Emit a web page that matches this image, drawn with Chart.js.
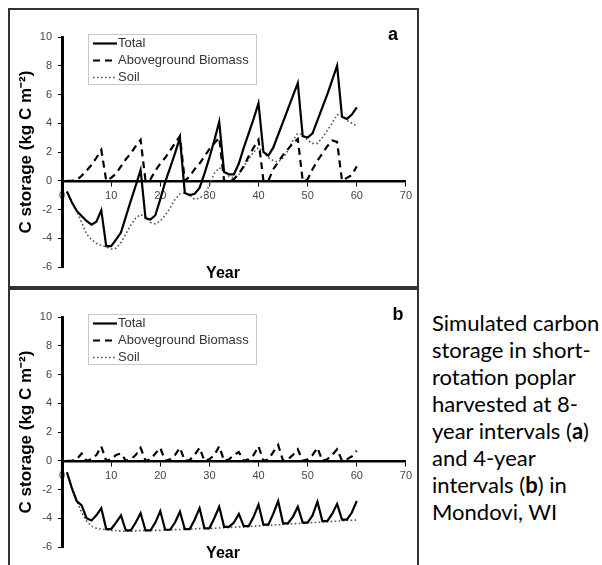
<!DOCTYPE html>
<html>
<head>
<meta charset="utf-8">
<script src="https://cdn.jsdelivr.net/npm/chart.js@4.4.0/dist/chart.umd.min.js"></script>
<style>
body { margin:0; background:#fff; width:602px; height:565px; overflow:hidden; position:relative; }
.panel { position:absolute; left:8px; width:411px; border:2px solid #333; box-sizing:border-box; background:#fff; }
#pa { top:8px; height:280px; }
#pb { top:288px; height:290px; }
.panel canvas { display:block; }
#caption { position:absolute; left:432px; top:309px; font-family:Lato, "Open Sans", sans-serif; font-size:22px; line-height:27px; color:#000; white-space:nowrap; }
</style>
</head>
<body>
<div class="panel" id="pa"><canvas id="chartA" width="407" height="276"></canvas></div>
<div class="panel" id="pb"><canvas id="chartB" width="407" height="276"></canvas></div>
<div id="caption">Simulated carbon<br>storage in short-<br>rotation poplar<br>harvested at 8-<br>year intervals (<b>a</b>)<br>and 4-year<br>intervals (<b>b</b>) in<br>Mondovi, WI</div>
<script>
// years since planting
var years = [1,2,3,4,5,6,7,8,9,10,11,12,13,14,15,16,17,18,19,20,
             21,22,23,24,25,26,27,28,29,30,31,32,33,34,35,36,37,38,39,40,
             41,42,43,44,45,46,47,48,49,50,51,52,53,54,55,56,57,58,59,60];

// (a) 8-year harvest
var totalA = [-0.75,-1.5,-2.1,-2.45,-2.8,-3.05,-2.85,-2.05,-4.55,-4.55,
              -4.1,-3.6,-2.5,-1.4,-0.35,0.75,-2.6,-2.7,-2.4,-1.3,
              -0.1,0.9,1.9,3.0,-0.85,-1.0,-0.9,-0.5,0.5,1.6,
              2.8,4.1,0.6,0.45,0.45,1.2,2.3,3.3,4.3,5.4,
              2.0,1.75,2.3,3.2,4.1,5.0,5.9,6.8,3.1,3.0,
              3.3,4.2,5.1,6.0,7.0,8.0,4.45,4.3,4.6,5.1];
var biomassA = [0,0,0.05,0.35,0.7,1.1,1.6,2.15,0,0.2,
                0.5,1.0,1.5,1.9,2.4,2.85,0,0.1,0.7,1.2,
                1.6,2.1,2.6,3.1,0,0.3,0.8,1.2,1.7,2.2,
                2.6,3.0,0,0,0.1,0.5,1.0,1.7,2.3,2.85,
                0,0,0.8,1.3,1.8,2.2,2.6,2.9,0,0.1,
                0.8,1.4,1.9,2.4,2.8,2.7,0,0.2,0.4,1.0];
var soilA = [-0.75,-1.5,-2.1,-2.9,-3.7,-4.1,-4.35,-4.5,-4.6,-4.75,
             -4.7,-4.3,-3.7,-3.1,-2.6,-2.35,-2.5,-2.9,-3.0,-2.8,
             -2.4,-1.9,-1.3,-0.9,-0.85,-1.0,-1.3,-1.2,-1.0,-0.3,
             0.5,0.9,0.7,0.3,0.2,0.4,1.0,1.5,2.0,2.3,
             2.0,1.6,1.4,1.3,1.6,2.1,2.8,3.3,3.2,2.8,
             2.6,2.6,3.0,3.5,4.0,4.6,4.5,4.2,4.0,3.8];

// (b) 4-year harvest
var totalB = [-0.8,-1.9,-2.8,-3.1,-4.0,-4.15,-3.8,-3.3,-4.75,-4.75,
              -4.3,-3.8,-4.85,-4.85,-4.3,-3.65,-4.85,-4.85,-4.3,-3.5,
              -4.8,-4.8,-4.3,-3.55,-4.75,-4.75,-4.1,-3.3,-4.7,-4.7,
              -4.0,-3.2,-4.6,-4.6,-4.3,-3.7,-4.55,-4.55,-3.9,-3.05,
              -4.45,-4.45,-3.7,-2.8,-4.35,-4.35,-3.9,-3.2,-4.3,-4.3,
              -3.8,-2.85,-4.2,-4.2,-3.7,-3.0,-4.1,-4.1,-3.6,-2.8];
var biomassB = [0,0,0.1,0.5,0,0.1,0.4,1.0,0,0.1,
                0.4,0.5,0,0.1,0.4,0.9,0,0.1,0.5,0.9,
                0,0.1,0.4,0.9,0,0.05,0.4,0.9,0,0.1,
                0.4,1.0,0,0.1,0.4,0.6,0,0.1,0.4,1.0,
                0,0.1,0.6,1.1,0,0.1,0.4,0.8,0,0.1,
                0.4,0.9,0,0.1,0.4,0.8,0,0.1,0.3,0.7];
var soilB = [-0.8,-1.8,-2.8,-3.6,-4.2,-4.55,-4.7,-4.75,-4.8,-4.85,
             -4.85,-4.9,-4.9,-4.9,-4.88,-4.85,-4.86,-4.85,-4.84,-4.84,
             -4.8,-4.8,-4.79,-4.78,-4.76,-4.75,-4.74,-4.72,-4.7,-4.71,
             -4.7,-4.68,-4.66,-4.65,-4.63,-4.6,-4.6,-4.58,-4.55,-4.53,
             -4.5,-4.5,-4.47,-4.45,-4.43,-4.4,-4.38,-4.37,-4.35,-4.32,
             -4.3,-4.29,-4.26,-4.24,-4.22,-4.2,-4.18,-4.16,-4.14,-4.12];

var seriesNames = ['Total', 'Aboveground Biomass', 'Soil'];

Chart.defaults.font.family = '"Liberation Sans", Arial, sans-serif';

function pts(vals) {
    return years.map(function (yr, i) { return {x: yr, y: vals[i]}; });
}

// legend box, "Year" and the panel letter sit inside the plot in the original
var panelDecor = {
    id: 'panelDecor',
    afterDraw: function (chart, args, opts) {
        var ctx = chart.ctx, a = chart.chartArea;
        ctx.save();
        var bx = a.left + 26, by = a.top - 3, bw = 168, bh = 50;
        ctx.fillStyle = '#fff';
        ctx.fillRect(bx, by, bw, bh);
        ctx.strokeStyle = '#c8c8c8';
        ctx.lineWidth = 1;
        ctx.strokeRect(bx + 0.5, by + 0.5, bw, bh);
        ctx.font = '13px "Liberation Sans", Arial, sans-serif';
        ctx.textBaseline = 'middle';
        chart.data.datasets.forEach(function (ds, i) {
            var y = by + 9.5 + i * 17;
            ctx.beginPath();
            ctx.setLineDash(ds.borderDash || []);
            ctx.strokeStyle = ds.borderColor;
            ctx.lineWidth = ds.borderWidth;
            ctx.moveTo(bx + 5, y);
            ctx.lineTo(bx + 29, y);
            ctx.stroke();
            ctx.setLineDash([]);
            ctx.fillStyle = '#333';
            ctx.textAlign = 'left';
            ctx.fillText(ds.label, bx + 30, y);
        });
        ctx.fillStyle = '#000';
        ctx.font = 'bold 16px "Liberation Sans", Arial, sans-serif';
        ctx.textAlign = 'center';
        ctx.fillText('Year', a.left + 161, a.bottom + 7);
        ctx.font = 'bold 18px "Liberation Sans", Arial, sans-serif';
        ctx.fillText(opts.letter, a.right + opts.dx, a.top - 2);
        ctx.restore();
    }
};

function makeChart(id, total, biomass, soil, letter, dx) {
    return new Chart(document.getElementById(id), {
        type: 'line',
        data: {
            datasets: [
                {label: seriesNames[0], data: pts(total), borderColor: '#000', borderWidth: 2.2},
                {label: seriesNames[1], data: pts(biomass), borderColor: '#000', borderWidth: 2.2, borderDash: [7, 5]},
                {label: seriesNames[2], data: pts(soil), borderColor: '#555', borderWidth: 1.6, borderDash: [1.6, 2.4]}
            ]
        },
        options: {
            responsive: false,
            animation: false,
            layout: {padding: {left: 0, right: 9, top: 27, bottom: 19}},
            elements: {point: {radius: 0}, line: {tension: 0, fill: false}},
            plugins: {
                legend: {display: false},
                tooltip: {enabled: false},
                panelDecor: {letter: letter, dx: dx}
            },
            scales: {
                x: {
                    type: 'linear', min: 0, max: 70, position: {y: 0},
                    ticks: {stepSize: 10, color: '#444', font: {size: 11}, padding: 5, maxRotation: 0},
                    grid: {drawOnChartArea: false, tickLength: 4, color: '#000'},
                    border: {color: '#000', width: 2.5}
                },
                y: {
                    min: -6, max: 10,
                    ticks: {stepSize: 2, color: '#444', font: {size: 11}, padding: 6},
                    grid: {drawOnChartArea: false, tickLength: 4, color: '#000'},
                    border: {color: '#000', width: 3},
                    title: {display: true, text: 'C storage (kg C m\u207B\u00B2)', color: '#000',
                            font: {size: 17, weight: 'bold'}, padding: {top: 6, bottom: 0}},
                    afterFit: function (s) { s.width = 52; }
                }
            }
        },
        plugins: [panelDecor]
    });
}

makeChart('chartA', totalA, biomassA, soilA, 'a', -13);
makeChart('chartB', totalB, biomassB, soilB, 'b', -8);
</script>
</body>
</html>
